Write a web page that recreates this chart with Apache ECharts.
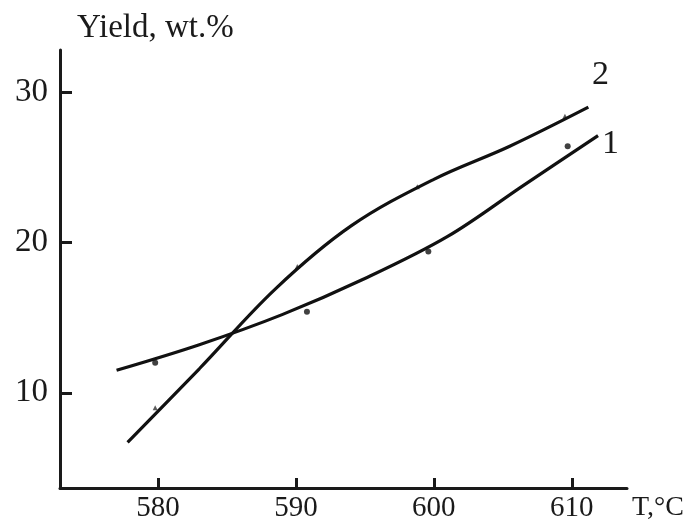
<!DOCTYPE html>
<html>
<head>
<meta charset="utf-8">
<script src="https://cdn.jsdelivr.net/npm/echarts@6/dist/echarts.min.js"></script>
<style>
  html, body { margin: 0; padding: 0; background: #fff; }
  #main { width: 688px; height: 526px; }
</style>
</head>
<body>
<div id="main"></div>
<script>
// tick labels
var xTicks = [580, 590, 600, 610];
var yTicks = [10, 20, 30];

// fitted curve 1 (T, yield)
var curve1T = [577.0, 583, 589, 595, 601, 606.5, 611.9];
var curve1Y = [11.5, 13.2, 15.2, 17.6, 20.4, 23.8, 27.1];
// fitted curve 2
var curve2T = [577.8, 583, 588.5, 594, 600, 605.5, 611.2];
var curve2Y = [6.7, 11.6, 16.9, 21.1, 24.2, 26.4, 29.0];

// measured points
var pts1T = [579.8, 590.8, 599.6, 609.7];
var pts1Y = [12.0, 15.4, 19.4, 26.4];
var pts2T = [579.8, 590.1, 598.8, 609.5];
var pts2Y = [9.0, 18.4, 23.7, 28.4];

function zip(a, b) {
    return a.map(function (v, i) { return [v, b[i]]; });
}

var serif = 'Liberation Serif';
var chart = echarts.init(document.getElementById('main'));

chart.setOption({
    backgroundColor: '#fff',
    animation: false,
    grid: { left: 60, right: 61, top: 50, bottom: 38 },
    xAxis: {
        type: 'value',
        min: 572.9,
        max: 614,
        splitLine: { show: false },
        axisLine: { lineStyle: { color: '#1a1a1a', width: 3 } },
        axisTick: {
            customValues: xTicks,
            inside: true,
            length: 10,
            lineStyle: { color: '#1a1a1a', width: 3 }
        },
        axisLabel: {
            customValues: xTicks,
            color: '#1a1a1a',
            fontFamily: serif,
            fontSize: 29,
            margin: 6
        },
        name: 'T,°C',
        nameLocation: 'end',
        nameGap: 5,
        nameTextStyle: {
            color: '#1a1a1a',
            fontFamily: serif,
            fontSize: 28,
            verticalAlign: 'top',
            padding: [6, 0, 0, 0]
        }
    },
    yAxis: {
        type: 'value',
        min: 3.67,
        max: 32.8,
        splitLine: { show: false },
        axisLine: { lineStyle: { color: '#1a1a1a', width: 3 } },
        axisTick: {
            customValues: yTicks,
            inside: true,
            length: 12,
            lineStyle: { color: '#1a1a1a', width: 3 }
        },
        axisLabel: {
            customValues: yTicks,
            color: '#1a1a1a',
            fontFamily: serif,
            fontSize: 33,
            margin: 12
        },
        name: 'Yield, wt.%',
        nameLocation: 'end',
        nameGap: 5,
        nameTextStyle: {
            color: '#1a1a1a',
            fontFamily: serif,
            fontSize: 33,
            align: 'left',
            verticalAlign: 'bottom',
            padding: [0, 0, 0, 17]
        }
    },
    series: [
        {
            type: 'line',
            data: zip(curve1T, curve1Y),
            smooth: 0.35,
            showSymbol: false,
            lineStyle: { color: '#111', width: 3.2 }
        },
        {
            type: 'line',
            data: zip(curve2T, curve2Y),
            smooth: 0.35,
            showSymbol: false,
            lineStyle: { color: '#111', width: 3.2 }
        },
        {
            type: 'scatter',
            data: zip(pts1T, pts1Y),
            symbol: 'circle',
            symbolSize: 6,
            itemStyle: { color: '#111' }
        },
        {
            type: 'scatter',
            data: zip(pts2T, pts2Y),
            symbol: 'triangle',
            symbolSize: 5,
            itemStyle: { color: '#333' }
        }
    ],
    graphic: [
        {
            type: 'text', left: 592, top: 58,
            style: { text: '2', font: '34px "Liberation Serif"', fill: '#1a1a1a' }
        },
        {
            type: 'text', left: 602, top: 127,
            style: { text: '1', font: '34px "Liberation Serif"', fill: '#1a1a1a' }
        }
    ]
});
</script>
</body>
</html>
